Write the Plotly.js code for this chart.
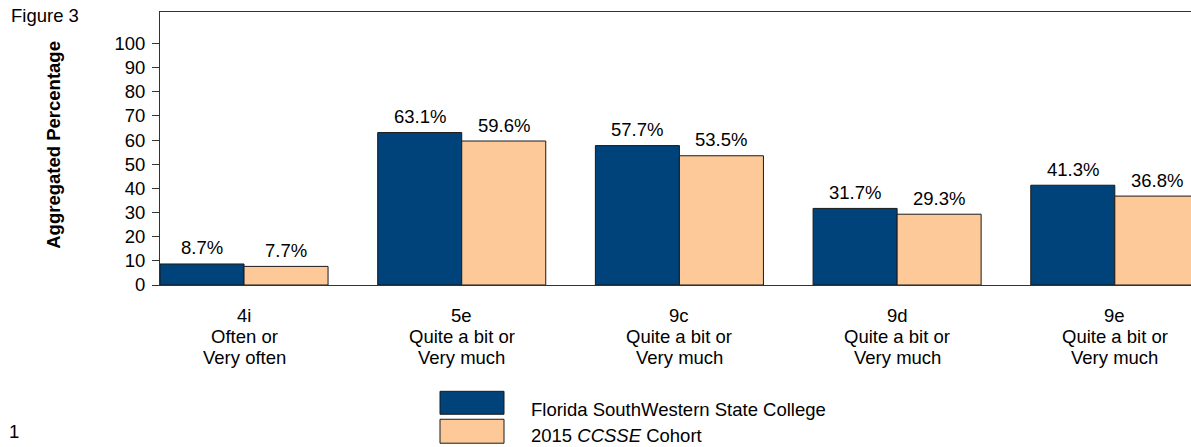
<!DOCTYPE html>
<html><head><meta charset="utf-8">
<script src="https://cdn.plot.ly/plotly-3.0.1.min.js"></script>
<style>html,body{margin:0;padding:0;background:#fff;}#chart{width:1191px;height:447px;}</style>
</head><body><div id="chart"></div>
<script>
const categoryCodes = ["4i", "5e", "9c", "9d", "9e"];
const responseLine1 = ["Often or", "Quite a bit or", "Quite a bit or", "Quite a bit or", "Quite a bit or"];
const responseLine2 = ["Very often", "Very much", "Very much", "Very much", "Very much"];
const collegeValues = [8.7, 63.1, 57.7, 31.7, 41.3];
const cohortValues = [7.7, 59.6, 53.5, 29.3, 36.8];
const seriesNames = ["Florida SouthWestern State College", "2015 <i>CCSSE</i> Cohort"];
const yTicks = [0,10,20,30,40,50,60,70,80,90,100];

const FONT = "Liberation Sans, Arial, sans-serif";
const FS = 18.5;
const BLUE = "#00427a", PEACH = "#fdc998";
const BARGAP = 0.228;
const idx = categoryCodes.map((c,i)=>i);
const off = (1-BARGAP)/4;
const PH = 273.5, PW = 1031, PL = 160, PB = 285.5;
const px2py = y => (PB - y)/PH;
const px2px = x => (x - PL)/PW;

function bar(vals, name, color){
  return {type:"bar", x:idx, y:vals, name:name, marker:{color:color, line:{color:"#1a1a1a", width:1}},
    hoverinfo:"skip"};
}
const data = [bar(collegeValues, seriesNames[0], BLUE), bar(cohortValues, seriesNames[1], PEACH)];

const txt = (extra) => Object.assign({showarrow:false, xanchor:"center", yanchor:"middle",
  font:{family:FONT, size:FS, color:"#000"}}, extra);

const anns = [];
[[collegeValues,-off],[cohortValues,off]].forEach(([vals,dx])=>{
  vals.forEach((v,i)=>anns.push(txt({x:i+dx, y:v, xref:"x", yref:"y", text:v.toFixed(1)+"%", yshift:16})));
});
[[categoryCodes,316],[responseLine1,337],[responseLine2,357.5]].forEach(([arr,py])=>{
  arr.forEach((t,i)=>anns.push(txt({x:i, y:0, xref:"x", yref:"paper", text:t, yshift:-(py-PB)})));
});

const layout = {
  width:1191, height:447, margin:{l:PL, r:0, t:12, b:447-PB},
  paper_bgcolor:"#fff", plot_bgcolor:"#fff", showlegend:false,
  barmode:"group", bargap:BARGAP, bargroupgap:0,
  font:{family:FONT, color:"#000"},
  xaxis:{range:[-0.386, 4.35], tickmode:"array", tickvals:idx, showticklabels:false,
    ticks:"", showgrid:false, zeroline:false, showline:true, linecolor:"#333", linewidth:1, mirror:true},
  yaxis:{range:[0,113], tickmode:"array", tickvals:yTicks, ticks:"outside", ticklen:7, tickcolor:"#333",
    showgrid:false, zeroline:false, showline:true, linecolor:"#333", linewidth:1, mirror:true,
    tickfont:{family:FONT, size:FS, color:"#000"}, ticklabelstandoff:3},
  annotations:anns.concat([
    txt({text:"Aggregated Percentage", xref:"paper", yref:"paper", x:px2px(54), y:px2py(145), textangle:-90,
     font:{family:FONT, size:FS, color:"#000", weight:"bold"}}),
    txt({text:"Figure 3", xref:"paper", yref:"paper", x:px2px(9), y:px2py(16), xanchor:"left"}),
    txt({text:"1", xref:"paper", yref:"paper", x:px2px(7), y:px2py(432), xanchor:"left"}),
    txt({text:seriesNames[0], xref:"paper", yref:"paper", x:px2px(529), y:px2py(410), xanchor:"left"}),
    txt({text:seriesNames[1], xref:"paper", yref:"paper", x:px2px(529), y:px2py(436.5), xanchor:"left"})
  ]),
  shapes:[
    {type:"rect", xref:"paper", yref:"paper", x0:px2px(440), x1:px2px(504), y0:px2py(415), y1:px2py(392),
     fillcolor:BLUE, line:{color:"#1a1a1a", width:1}},
    {type:"rect", xref:"paper", yref:"paper", x0:px2px(440), x1:px2px(504), y0:px2py(444), y1:px2py(420),
     fillcolor:PEACH, line:{color:"#1a1a1a", width:1}}
  ]
};
Plotly.newPlot("chart", data, layout, {displayModeBar:false, staticPlot:true});
</script></body></html>
